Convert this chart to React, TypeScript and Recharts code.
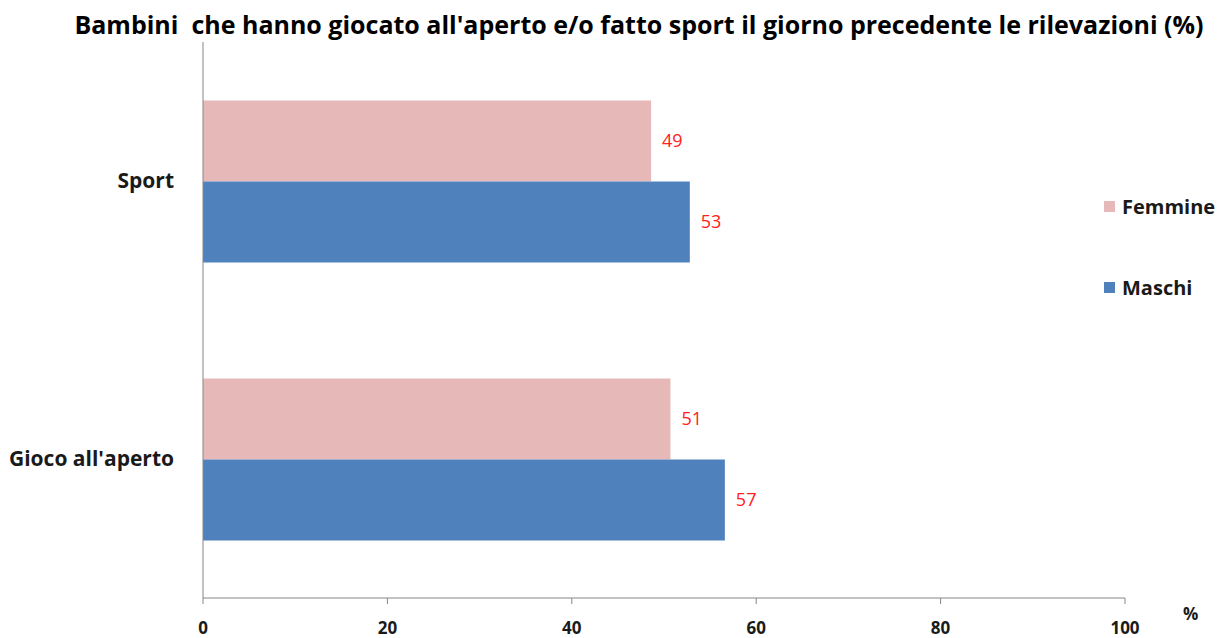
import React from "react";
import { Bar, BarChart, LabelList, XAxis, YAxis } from "recharts";

const categories = ["Sport", "Gioco all'aperto"];
const femmine = [48.6, 50.7];
const maschi = [52.8, 56.6];
const xTicks = [0, 20, 40, 60, 80, 100];

const data = categories.map((name, i) => ({ name, Femmine: femmine[i], Maschi: maschi[i] }));

const FONT = "'Open Sans', 'Noto Sans', sans-serif";
const AXIS = "#868686";
const PINK = "#e6b9b8";
const BLUE = "#4f81bd";
const TEXT = "#1a1a1a";

const App: React.FC = () => {
  return (
    <div style={{ position: "absolute", left: 0, top: 0, width: 1222, height: 638, background: "#fff", fontFamily: FONT }}>
      <div
        style={{
          position: "absolute",
          left: 0,
          top: 7,
          width: 1278,
          textAlign: "center",
          fontSize: 25,
          fontWeight: 700,
          color: "#000",
          whiteSpace: "nowrap"
        }}
      >
        Bambini&nbsp; che hanno giocato all'aperto e/o fatto sport il giorno precedente le rilevazioni (%)
      </div>
      <BarChart
        width={1222}
        height={638}
        data={data}
        layout="vertical"
        barCategoryGap="21%"
        barGap={0}
        margin={{ top: 42, right: 97, bottom: 0, left: 0 }}
      >
        <XAxis
          type="number"
          domain={[0, 100]}
          ticks={xTicks}
          height={40}
          stroke={AXIS}
          tickSize={6}
          tickMargin={18}
          tick={{ fill: TEXT, fontSize: 17, fontWeight: 700, fontFamily: FONT }}
          label={{ value: "%", position: "right", offset: 58, dy: -4, fill: TEXT, fontSize: 17, fontWeight: 700, fontFamily: FONT }}
        />
        <YAxis
          yAxisId="cat"
          type="category"
          dataKey="name"
          width={202}
          axisLine={false}
          tickLine={false}
          tickMargin={22}
          tick={{ fill: TEXT, fontSize: 21, fontWeight: 700, fontFamily: FONT }}
        />
        <YAxis yAxisId="a0" type="number" domain={[0, 2]} ticks={[0, 1, 2]} width={1} tick={false} stroke={AXIS} tickSize={6} />
        <Bar yAxisId="cat" dataKey="Femmine" fill={PINK} isAnimationActive={false}>
          <LabelList dataKey="Femmine" position="right" offset={11} fill="#ff2020" fontSize={18} fontFamily={FONT} formatter={(v: number) => Math.round(v)} />
        </Bar>
        <Bar yAxisId="cat" dataKey="Maschi" fill={BLUE} isAnimationActive={false}>
          <LabelList dataKey="Maschi" position="right" offset={11} fill="#ff2020" fontSize={18} fontFamily={FONT} formatter={(v: number) => Math.round(v)} />
        </Bar>
      </BarChart>
      {[
        { name: "Femmine", color: PINK, top: 193 },
        { name: "Maschi", color: BLUE, top: 274 }
      ].map((item) => (
        <div key={item.name} style={{ position: "absolute", left: 1104, top: item.top, display: "flex", alignItems: "center", fontSize: 20, fontWeight: 700, color: TEXT }}>
          <span style={{ display: "inline-block", width: 11, height: 11, background: item.color, marginRight: 7 }} />
          {item.name}
        </div>
      ))}
    </div>
  );
};

export default App;
